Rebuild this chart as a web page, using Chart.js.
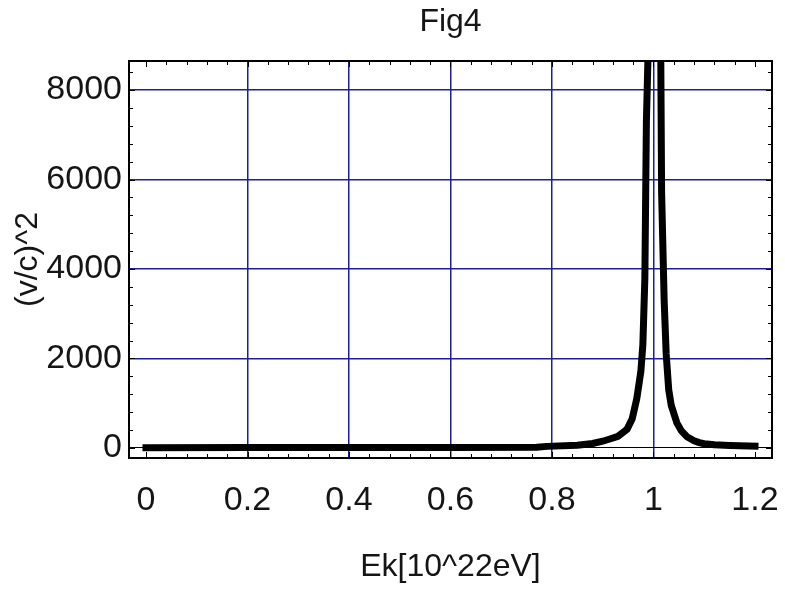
<!DOCTYPE html>
<html>
<head>
<meta charset="UTF-8">
<title>Fig4</title>
<script src="https://cdn.jsdelivr.net/npm/chart.js"></script>
<style>
    html, body { margin: 0; padding: 0; background: #fff; }
    #wrap { width: 785px; height: 590px; }
</style>
</head>
<body>
<div id="wrap"><canvas id="fig"></canvas></div>
<script>
// Ek values (10^22 eV) and (v/c)^2
const ek = [0, 0.2, 0.4, 0.6, 0.77, 0.79, 0.85, 0.88, 0.9, 0.914, 0.93, 0.948, 0.958, 0.967, 0.975,
            0.979, 0.983, 0.986, 0.9895, 0.992, 1.012, 1.016, 1.021, 1.025, 1.030, 1.035, 1.046, 1.055,
            1.066, 1.08, 1.09, 1.1, 1.12, 1.15, 1.2];
const vc2 = [5, 8, 10, 12, 15, 35, 60, 100, 150, 200, 260, 420, 650, 1100, 1700,
             2300, 3800, 7300, 8900, 13000, 13000, 5700, 3300, 2100, 1300, 950, 560, 380,
             250, 160, 120, 95, 70, 55, 40];

const xTicks = [0, 0.2, 0.4, 0.6, 0.8, 1, 1.2];
const yTicks = [0, 2000, 4000, 6000, 8000];

const points = ek.map((x, i) => ({ x: x, y: vc2[i] }));
const gridBlue = '#1e1e96';
const txt = '#151515';

// inward ticks on all four sides + black frame
const framePlugin = {
    id: 'frame',
    afterDraw(chart) {
        const { ctx, chartArea: a, scales: { x, y } } = chart;
        ctx.save();
        ctx.strokeStyle = '#000';
        ctx.lineWidth = 1;
        ctx.beginPath();
        for (let v = 0; v <= 1.2001; v += 0.04) {
            const px = Math.round(x.getPixelForValue(v)) + 0.5;
            const len = Math.abs(v / 0.2 - Math.round(v / 0.2)) < 1e-6 ? 6 : 4;
            ctx.moveTo(px, a.bottom); ctx.lineTo(px, a.bottom - len);
            ctx.moveTo(px, a.top); ctx.lineTo(px, a.top + len);
        }
        for (let v = 0; v <= 8600; v += 400) {
            const py = Math.round(y.getPixelForValue(v)) + 0.5;
            const len = v % 2000 === 0 ? 6 : 4;
            ctx.moveTo(a.left, py); ctx.lineTo(a.left + len, py);
            ctx.moveTo(a.right, py); ctx.lineTo(a.right - len, py);
        }
        ctx.stroke();
        ctx.lineWidth = 2;
        ctx.strokeRect(a.left, a.top, a.right - a.left, a.bottom - a.top);
        ctx.restore();
    }
};

new Chart(document.getElementById('fig'), {
    type: 'scatter',
    data: {
        datasets: [{
            data: points,
            showLine: true,
            borderColor: '#000',
            borderWidth: 7,
            borderCapStyle: 'square',
            pointRadius: 0,
            tension: 0
        }]
    },
    options: {
        responsive: true,
        maintainAspectRatio: false,
        animation: false,
        layout: { padding: { left: 12, right: 13, top: 0, bottom: 0 } },
        plugins: {
            legend: { display: false },
            tooltip: { enabled: false },
            title: {
                display: true,
                text: 'Fig4',
                fullSize: false,
                color: txt,
                font: { family: 'Liberation Sans, Arial, sans-serif', size: 32, weight: 'normal', lineHeight: 1 },
                padding: { top: 6, bottom: 23 }
            }
        },
        scales: {
            x: {
                type: 'linear',
                min: -0.0335,
                max: 1.2335,
                afterBuildTicks: s => { s.ticks = xTicks.map(v => ({ value: v })); },
                afterFit: s => { s.height = 132; s.paddingLeft = 0; s.paddingRight = 0; },
                grid: {
                    drawTicks: false,
                    color: c => c.tick && (c.tick.value === 0 || c.tick.value === 1.2) ? 'rgba(0,0,0,0)' : gridBlue,
                    lineWidth: 1.5
                },
                border: { display: false },
                ticks: {
                    color: txt,
                    padding: 22,
                    maxRotation: 0,
                    font: { family: 'Liberation Sans, Arial, sans-serif', size: 34 },
                    callback: v => String(v)
                },
                title: {
                    display: true,
                    text: 'Ek[10^22eV]',
                    color: txt,
                    font: { family: 'Liberation Sans, Arial, sans-serif', size: 32, lineHeight: 1 },
                    padding: { top: 0, bottom: 7 }
                }
            },
            y: {
                min: -225,
                max: 8650,
                afterBuildTicks: s => { s.ticks = yTicks.map(v => ({ value: v })); },
                afterFit: s => { s.width = 117; s.paddingTop = 0; s.paddingBottom = 0; },
                grid: {
                    drawTicks: false,
                    color: c => c.tick && c.tick.value === 0 ? '#000' : gridBlue,
                    lineWidth: c => c.tick && c.tick.value === 0 ? 1 : 1.5
                },
                border: { display: false },
                ticks: {
                    color: txt,
                    padding: 7,
                    font: { family: 'Liberation Sans, Arial, sans-serif', size: 34 },
                    callback: v => String(v)
                },
                title: {
                    display: true,
                    text: '(v/c)^2',
                    color: txt,
                    font: { family: 'Liberation Sans, Arial, sans-serif', size: 32, lineHeight: 1 },
                    padding: { top: 0, bottom: 0 }
                }
            }
        }
    },
    plugins: [framePlugin]
});
</script>
</body>
</html>
